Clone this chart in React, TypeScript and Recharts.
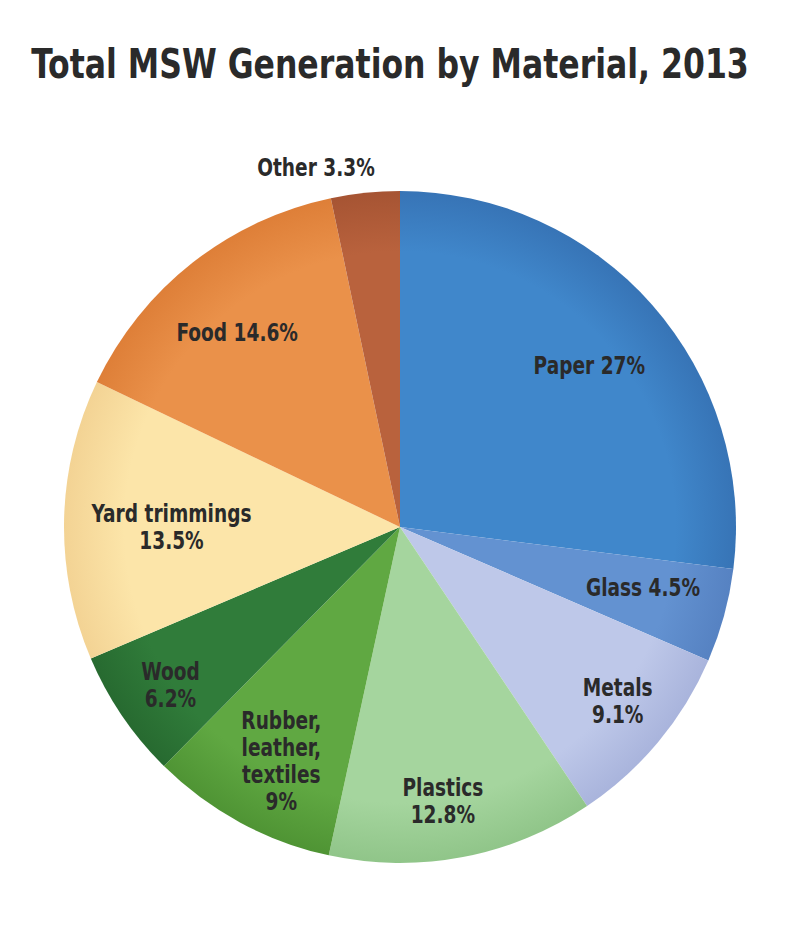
import React from "react";
import { PieChart, Pie, Cell } from "recharts";

const materials = ["Paper", "Glass", "Metals", "Plastics", "Rubber, leather, textiles", "Wood", "Yard trimmings", "Food", "Other"];
const shares = [27, 4.5, 9.1, 12.8, 9, 6.2, 13.5, 14.6, 3.3];
const shareLabels = ["27%", "4.5%", "9.1%", "12.8%", "9%", "6.2%", "13.5%", "14.6%", "3.3%"];

const colors = ["#4087cb", "#6392d1", "#bec8e9", "#a5d59e", "#60a842", "#307c3a", "#fce5a9", "#ea914a", "#b9623d"];
const edgeColors = ["#3774b6", "#5682c2", "#a9b4dc", "#90c589", "#4f9434", "#276a30", "#f3d394", "#de7f38", "#a65433"];
const labelLines = [
  ["Paper 27%"],
  ["Glass 4.5%"],
  ["Metals", "9.1%"],
  ["Plastics", "12.8%"],
  ["Rubber,", "leather,", "textiles", "9%"],
  ["Wood", "6.2%"],
  ["Yard trimmings", "13.5%"],
  ["Food 14.6%"],
  ["Other 3.3%"],
];
const labelRadius = [0.74, 0.745, 0.83, 0.825, 0.78, 0.83, 0.68, 0.756, 1.1];
const labelShift = [-1, 1.4, 1.1, -1.9, 1.5, 0.4, 1.26, 1.7, 7.2];

const data = materials.map((m, i) => ({ name: m, value: shares[i], label: shareLabels[i] }));

const RAD = Math.PI / 180;
const LINE_H = 27;
const FONT = "'DejaVu Sans Condensed', 'DejaVu Sans', sans-serif";

const renderLabel = (props: any) => {
  const { cx, cy, midAngle, outerRadius, index } = props;
  const a = (midAngle + labelShift[index]) * RAD;
  const r = outerRadius * labelRadius[index];
  const x = cx + r * Math.cos(a);
  const y = cy - r * Math.sin(a);
  const lines = labelLines[index];
  const startY = -((lines.length - 1) * LINE_H) / 2;
  return (
    <g transform={`translate(${x},${y}) scale(0.86,1)`}>
      <text
        x={0}
        y={startY}
        textAnchor="middle"
        dominantBaseline="central"
        fill="#2a2a2a"
        style={{ fontFamily: FONT, fontWeight: 700, fontSize: 24 }}
      >
        {lines.map((l, k) => (
          <tspan key={k} x={0} dy={k === 0 ? 0 : LINE_H}>
            {l}
          </tspan>
        ))}
      </text>
    </g>
  );
};

export default function App() {
  return (
    <div style={{ margin: -8, width: 800, height: 948, position: "relative", background: "#ffffff" }}>
      <svg width={800} height={120} style={{ position: "absolute", left: 0, top: 0 }}>
        <g transform="translate(390,78) scale(0.855,1)">
          <text
            x={0}
            y={0}
            textAnchor="middle"
            fill="#2a2a2a"
            style={{ fontFamily: FONT, fontWeight: 700, fontSize: 41 }}
          >
            Total MSW Generation by Material, 2013
          </text>
        </g>
      </svg>
      <PieChart width={800} height={948} margin={{ top: 0, right: 0, bottom: 0, left: 0 }} style={{ position: "absolute", left: 0, top: 0 }}>
        <defs>
          {colors.map((c, i) => (
            <radialGradient key={i} id={`g${i}`} cx={400} cy={527} r={336} gradientUnits="userSpaceOnUse">
              <stop offset="0%" stopColor={c} />
              <stop offset="82%" stopColor={c} />
              <stop offset="100%" stopColor={edgeColors[i]} />
            </radialGradient>
          ))}
        </defs>
        <Pie
          data={data}
          dataKey="value"
          nameKey="name"
          cx={400}
          cy={527}
          outerRadius={336}
          startAngle={90}
          endAngle={-270}
          stroke="none"
          label={renderLabel}
          labelLine={false}
          isAnimationActive={false}
        >
          {data.map((d, i) => (
            <Cell key={d.name} fill={`url(#g${i})`} />
          ))}
        </Pie>
      </PieChart>
    </div>
  );
}
